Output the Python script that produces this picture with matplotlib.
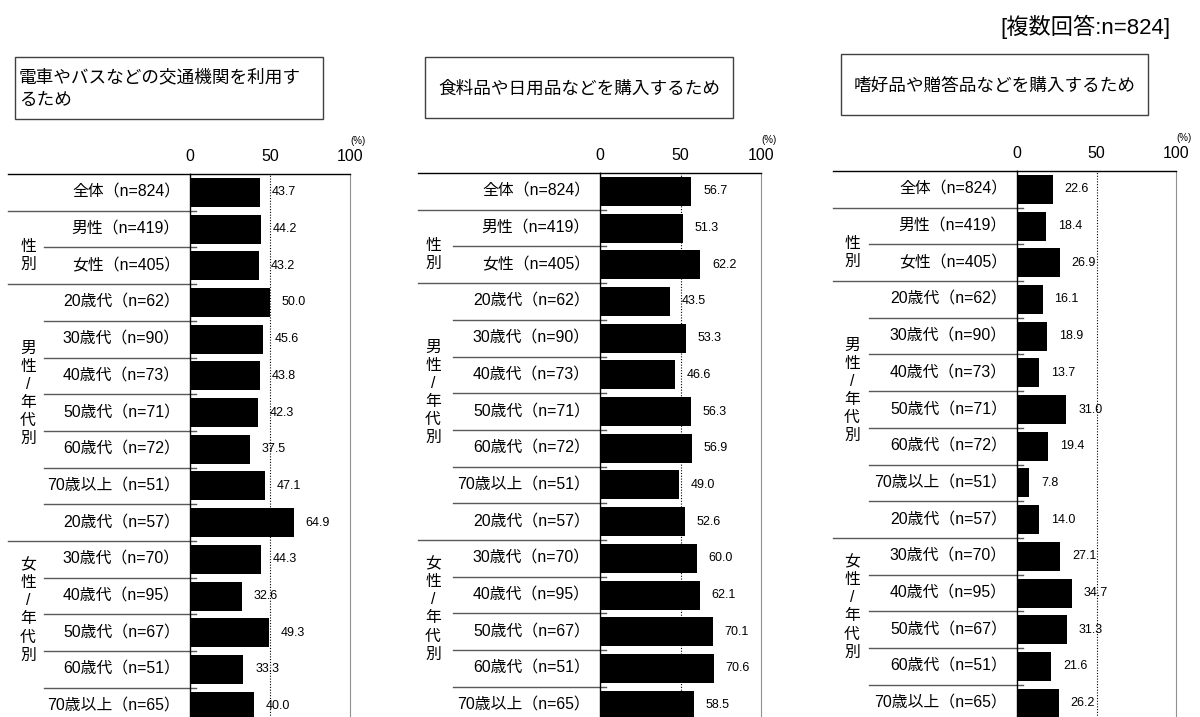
import matplotlib
matplotlib.use("Agg")
import matplotlib.pyplot as plt
from matplotlib.patches import Rectangle

plt.rcParams['font.family'] = ['Liberation Sans', 'Noto Sans CJK JP']

# ---- data ----
row_labels = ["全体（n=824）", "男性（n=419）", "女性（n=405）",
              "20歳代（n=62）", "30歳代（n=90）", "40歳代（n=73）", "50歳代（n=71）",
              "60歳代（n=72）", "70歳以上（n=51）",
              "20歳代（n=57）", "30歳代（n=70）", "40歳代（n=95）", "50歳代（n=67）",
              "60歳代（n=51）", "70歳以上（n=65）"]
group_labels = ["性\n別", "男\n性\n/\n年\n代\n別", "女\n性\n/\n年\n代\n別"]
titles = ["電車やバスなどの交通機関を利用す\nるため",
          "食料品や日用品などを購入するため",
          "嗜好品や贈答品などを購入するため"]
transport = [43.7, 44.2, 43.2, 50.0, 45.6, 43.8, 42.3, 37.5, 47.1, 64.9, 44.3, 32.6, 49.3, 33.3, 40.0]
daily_goods = [56.7, 51.3, 62.2, 43.5, 53.3, 46.6, 56.3, 56.9, 49.0, 52.6, 60.0, 62.1, 70.1, 70.6, 58.5]
gift_goods = [22.6, 18.4, 26.9, 16.1, 18.9, 13.7, 31.0, 19.4, 7.8, 14.0, 27.1, 34.7, 31.3, 21.6, 26.2]
note = "[複数回答:n=824]"

# ---- layout (pixels) ----
W, H = 1200, 717
ROW = 36.7
# x of 0, x of 100, top of plot, table left, group-line left, group label x
panels = [
    dict(x0=190, x1=350, top=174, tl=8, gl=44, gx=28,
         box=(15, 57, 323, 119), values=transport),
    dict(x0=600, x1=761, top=173, tl=418, gl=453, gx=433,
         box=(425, 57, 733, 118), values=daily_goods),
    dict(x0=1017, x1=1176, top=171, tl=833, gl=869, gx=852,
         box=(841, 54, 1148, 115), values=gift_goods),
]
full_lines = [0.5, 2.5, 9.5]
part_lines = [1.5, 3.5, 4.5, 5.5, 6.5, 7.5, 8.5, 10.5, 11.5, 12.5, 13.5]
group_y = [1.71, 5.47, 11.38]
line_col = '#595959'

fig = plt.figure(figsize=(W / 100, H / 100), dpi=100)

for i, p in enumerate(panels):
    n = len(row_labels)
    pw = p['x1'] - p['x0']
    bottom = p['top'] + n * ROW
    ax = fig.add_axes([p['x0'] / W, 1 - bottom / H, pw / W, n * ROW / H])
    ax.set_xlim(0, 100)
    ax.set_ylim(n - 0.5, -0.5)

    ax.barh(range(n), p['values'], height=0.79, color='black')
    for j, v in enumerate(p['values']):
        ax.annotate(f"{v:.1f}", (v, j), xytext=(8.5, 0), textcoords='offset points',
                    ha='left', va='center', fontsize=9)

    ax.axvline(50, color='black', lw=0.8, ls=(0, (1, 1.5)))
    ax.spines['bottom'].set_visible(False)
    ax.spines['right'].set_color('#909090')
    ax.spines['left'].set_linewidth(1.0)
    ax.spines['top'].set_linewidth(1.0)

    ax.xaxis.tick_top()
    ax.set_xticks([0, 50, 100])
    ax.tick_params(axis='x', length=0, labelsize=11.5, pad=7)
    ax.set_yticks([])

    tr = ax.get_yaxis_transform()
    def ax_x(px):
        return (px - p['x0']) / pw

    # table lines
    ax.plot([ax_x(p['tl']), 0], [-0.5, -0.5], color='black', lw=1.0,
            transform=tr, clip_on=False)
    for b in full_lines:
        ax.plot([ax_x(p['tl']), ax_x(p['x0'] + 6)], [b, b], color=line_col, lw=1.0,
                transform=tr, clip_on=False)
    for b in part_lines:
        ax.plot([ax_x(p['gl']), ax_x(p['x0'] + 6)], [b, b], color=line_col, lw=1.0,
                transform=tr, clip_on=False)

    for j, lab in enumerate(row_labels):
        ax.text(ax_x(p['x0'] - 10), j, lab, transform=tr, ha='right', va='center',
                fontsize=11.4, clip_on=False)
    for gy, glab in zip(group_y, group_labels):
        ax.text(ax_x(p['gx']), gy, glab, transform=tr, ha='center', va='center',
                fontsize=11.4, linespacing=1.25, clip_on=False)

    ax.text(ax_x(p['x1'] + 8), -0.5 - 33 / ROW, "(%)", transform=tr,
            ha='center', va='center', fontsize=7, clip_on=False)

    # title box
    bx0, by0, bx1, by1 = p['box']
    fig.patches.append(Rectangle((bx0 / W, 1 - by1 / H), (bx1 - bx0) / W, (by1 - by0) / H,
                                 transform=fig.transFigure, fill=False,
                                 edgecolor='#404040', lw=1.0))
    if i == 0:
        fig.text((bx0 + 4) / W, 1 - ((by0 + by1) / 2 + 1) / H, titles[i],
                 ha='left', va='center', fontsize=12.7, linespacing=1.4)
    else:
        fig.text((bx0 + bx1) / 2 / W, 1 - ((by0 + by1) / 2 + 2) / H, titles[i],
                 ha='center', va='center', fontsize=12.7)

fig.text(1170 / W, 1 - 27 / H, note, ha='right', va='center', fontsize=16)

fig.savefig("out.png", dpi=100)
